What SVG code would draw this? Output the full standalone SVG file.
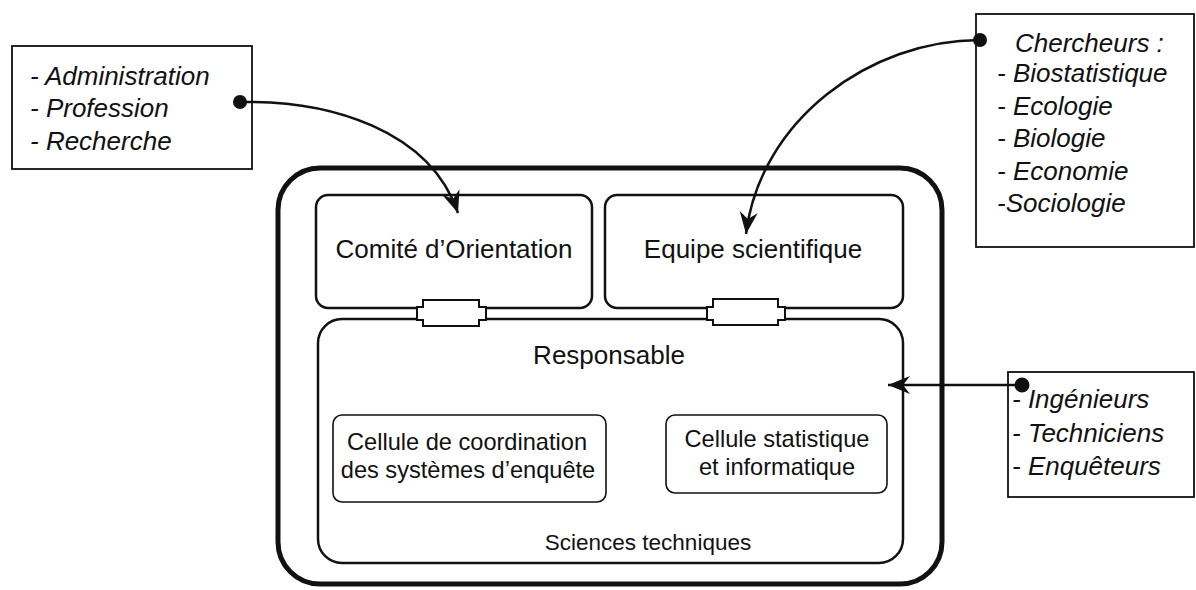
<svg xmlns="http://www.w3.org/2000/svg" width="1196" height="590" viewBox="0 0 1196 590">
<defs>
<style>
.t{font-family:"Liberation Sans",Arial,sans-serif;fill:#111;}
.it{font-family:"Liberation Sans",Arial,sans-serif;font-style:italic;fill:#111;font-size:26px;}
.box{fill:#fff;stroke:#111;stroke-width:2.5;}
.cell{fill:#fff;stroke:#111;stroke-width:1.6;}
.note{fill:#fff;stroke:#111;stroke-width:1.8;}
.wire{fill:none;stroke:#111;stroke-width:2.5;}
.plug{fill:#fff;stroke:#111;stroke-width:2;}
</style>
<marker id="ah" markerWidth="26" markerHeight="22" refX="22" refY="11" orient="auto" markerUnits="userSpaceOnUse">
<path d="M0,2 L22,11 L0,20 L7,11 Z" fill="#111"/>
</marker>
</defs>
<rect width="1196" height="590" fill="#fff"/>

<g id="outer">
<rect x="278" y="168" width="664" height="416" rx="42" ry="42" fill="none" stroke="#111" stroke-width="5"/>
</g>

<g id="comite">
<rect class="box" x="316" y="195" width="276" height="113" rx="12" ry="12"/>
<text class="t" x="454" y="258" font-size="26" text-anchor="middle">Comité d’Orientation</text>
</g>

<g id="equipe">
<rect class="box" x="605" y="195" width="298" height="113" rx="12" ry="12"/>
<text class="t" x="753" y="258" font-size="26" text-anchor="middle">Equipe scientifique</text>
</g>

<g id="responsable">
<rect class="box" x="318" y="319" width="585" height="244" rx="24" ry="24"/>
<text class="t" x="609" y="364" font-size="26" text-anchor="middle">Responsable</text>
<text class="t" x="648" y="550" font-size="22.5" text-anchor="middle">Sciences techniques</text>
</g>

<g id="cellule-coordination">
<rect class="cell" x="333" y="415" width="273" height="87" rx="9" ry="9"/>
<text class="t" x="467" y="450" font-size="23.6" text-anchor="middle">Cellule de coordination</text>
<text class="t" x="468" y="478" font-size="23.6" text-anchor="middle">des systèmes d’enquête</text>
</g>

<g id="cellule-statistique">
<rect class="cell" x="666" y="415" width="221" height="78" rx="9" ry="9"/>
<text class="t" x="777" y="447" font-size="23.6" text-anchor="middle">Cellule statistique</text>
<text class="t" x="777" y="475" font-size="23.6" text-anchor="middle">et informatique</text>
</g>

<g id="note-gauche">
<rect class="note" x="12" y="46" width="240" height="123"/>
<text class="it" x="30" y="85">- Administration</text>
<text class="it" x="30" y="117">- Profession</text>
<text class="it" x="30" y="150">- Recherche</text>
</g>

<g id="note-chercheurs">
<rect class="note" x="976" y="14" width="218" height="233"/>
<text class="it" x="1015" y="52">Chercheurs :</text>
<text class="it" x="997" y="82">- Biostatistique</text>
<text class="it" x="997" y="115">- Ecologie</text>
<text class="it" x="997" y="147">- Biologie</text>
<text class="it" x="997" y="180">- Economie</text>
<text class="it" x="997" y="212">-Sociologie</text>
</g>

<g id="note-ingenieurs">
<rect class="note" x="1008" y="372" width="186" height="125"/>
<text class="it" x="1012" y="408">- Ingénieurs</text>
<text class="it" x="1012" y="442">- Techniciens</text>
<text class="it" x="1012" y="475">- Enquêteurs</text>
</g>

<g id="connectors">
<polygon class="plug" points="417,307 423,307 423,300 479,300 479,307 486,307 486,320 479,320 479,326 423,326 423,320 417,320"/>
<polygon class="plug" points="707,307 713,307 713,299 778,299 778,307 785,307 785,320 778,320 778,325 713,325 713,320 707,320"/>
<path class="wire" d="M240,102 C330,100 430,130 458,213" marker-end="url(#ah)"/>
<circle cx="240" cy="102" r="7" fill="#111"/>
<path class="wire" d="M980,40 C870,40 760,120 746,234" marker-end="url(#ah)"/>
<circle cx="980" cy="40" r="7" fill="#111"/>
<path class="wire" d="M1022,385 L888,385" marker-end="url(#ah)"/>
<circle cx="1022" cy="385" r="7.5" fill="#111"/>
</g>
</svg>
